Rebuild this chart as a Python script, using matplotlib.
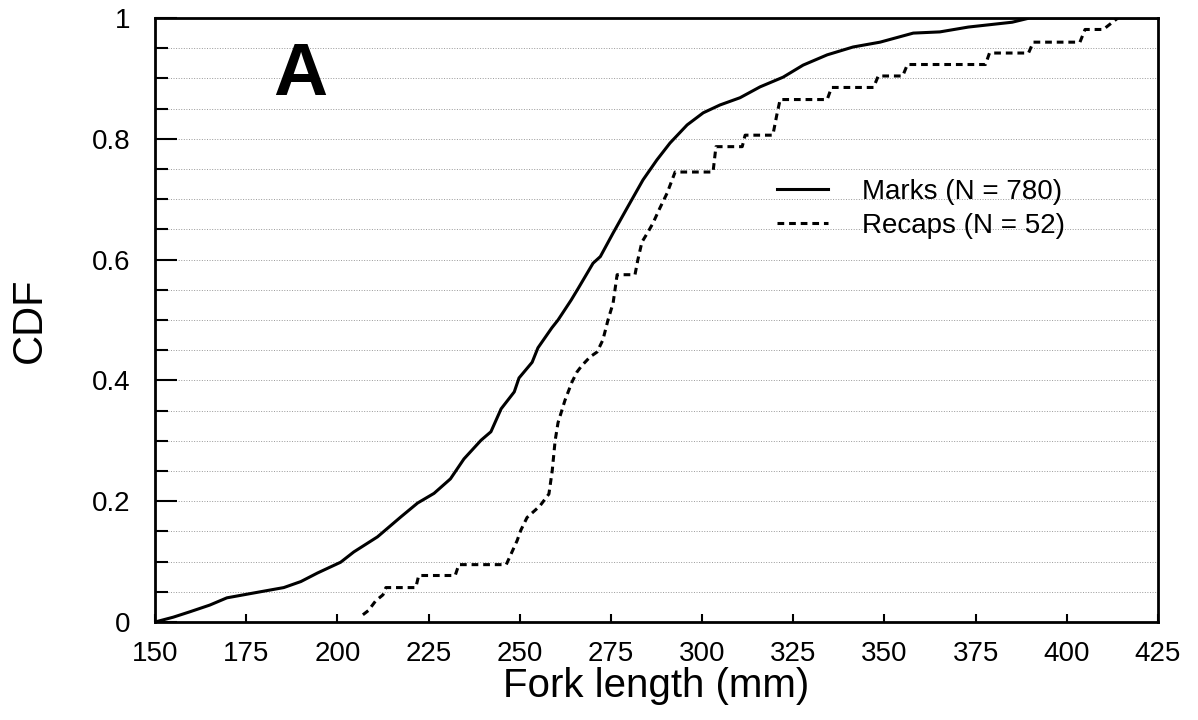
import numpy as np
import matplotlib
matplotlib.use("Agg")
import matplotlib.pyplot as plt
from matplotlib.ticker import MultipleLocator

# Traced CDF for marked fish (N = 780):
marks_x = [150, 155, 159.6, 165, 169.7, 177, 185.3, 190, 194.5, 200.9, 204.5, 211, 217.4, 222,
           226.5, 231, 234.7, 239.4, 242.1, 244.9, 248.5, 249.8, 253.4, 255, 258.8, 260.5, 264.1,
           266, 270.1, 272.1, 275.6, 279.4, 283.8, 287.6, 291.2, 295.9, 300.3, 304.9, 310.4,
           315.9, 322.2, 327.7, 334.3, 341.4, 348.8, 357.9, 365.2, 373, 385, 389.8, 425]
marks_y = [0.0, 0.008, 0.017, 0.028, 0.04, 0.048, 0.057, 0.067, 0.081, 0.099, 0.116, 0.141, 0.174,
           0.197, 0.213, 0.237, 0.27, 0.301, 0.315, 0.353, 0.381, 0.404, 0.43, 0.454, 0.487, 0.5,
           0.533, 0.552, 0.594, 0.605, 0.644, 0.685, 0.732, 0.765, 0.793, 0.823, 0.843, 0.856,
           0.868, 0.886, 0.902, 0.922, 0.939, 0.952, 0.96, 0.975, 0.977, 0.985, 0.993, 1.0, 1.0]

# Traced CDF for recaptures (N = 52):
recap_x = [207.0, 208.5, 210.5, 212.5, 213.3, 221.5, 222.3, 232.3, 233.3, 246.3, 247.8, 249.3,
           250.3, 252.0, 255.5, 258.0, 258.9, 259.7, 260.5, 262.4, 264.3, 265.7, 267.1, 269.3,
           271.2, 272.8, 274.2, 275.6, 276.7, 281.6, 282.4, 283.5, 285.2, 286.5, 288.4, 290.4,
           292.6, 303.0, 303.8, 311.0, 311.8, 319.4, 320.5, 321.4, 334.3, 335.5, 347.0, 348.3,
           355.0, 356.3, 377.7, 378.8, 389.5, 390.8, 403.6, 405.0, 410.0, 414.0]
recap_y = [0.012, 0.019, 0.035, 0.045, 0.057, 0.057, 0.077, 0.077, 0.095, 0.095, 0.115, 0.135,
           0.152, 0.173, 0.192, 0.212, 0.25, 0.3, 0.33, 0.367, 0.397, 0.414, 0.425, 0.439, 0.447,
           0.467, 0.5, 0.528, 0.575, 0.575, 0.6, 0.629, 0.646, 0.66, 0.685, 0.71, 0.745, 0.745,
           0.787, 0.787, 0.806, 0.806, 0.84, 0.865, 0.865, 0.885, 0.885, 0.904, 0.904, 0.923,
           0.923, 0.942, 0.942, 0.96, 0.96, 0.981, 0.981, 1.0]

labels = ["Marks (N = 780)", "Recaps (N = 52)"]

plt.rcParams['font.family'] = ['Liberation Sans', 'DejaVu Sans']

fig = plt.figure(figsize=(11.98, 7.2), dpi=100)
ax = fig.add_axes([0.1294, 0.1361, 0.8372, 0.8389])

ax.plot(marks_x, marks_y, '-', color='black', lw=2.2, label=labels[0])
ax.plot(recap_x, recap_y, color='black', lw=2.2, linestyle=(0, (2.2, 1.6)), label=labels[1])

ax.set_xlim(150, 425)
ax.set_ylim(0, 1)

# Ticks inside, minor on y every 0.05
ax.xaxis.set_major_locator(MultipleLocator(25))
ax.yaxis.set_minor_locator(MultipleLocator(0.05))
ax.tick_params(axis='x', direction='in', length=6, width=1.5, labelsize=20, pad=14)
ax.tick_params(axis='y', which='major', direction='in', length=16, width=1.5, labelsize=20, pad=18)
ax.tick_params(axis='y', which='minor', direction='in', length=9, width=1.5)
ax.set_yticks([0, 0.2, 0.4, 0.6, 0.8, 1.0])
ax.set_yticklabels(['0', '0.2', '0.4', '0.6', '0.8', '1'])

# Dotted horizontal grid
ax.grid(True, axis='y', which='both', color='#999999', linestyle=':', lw=0.7)

for s in ax.spines.values():
    s.set_linewidth(2.0)

ax.set_xlabel("Fork length (mm)", fontsize=29, labelpad=0)
ax.set_ylabel("CDF", fontsize=30)
ax.yaxis.set_label_coords(-0.105, 0.5)

ax.text(0.145, 0.905, "A", transform=ax.transAxes, fontsize=54, fontweight='bold',
        ha='center', va='center')

ax.legend(loc='upper left', bbox_to_anchor=(0.62, 0.734), frameon=False, fontsize=20,
          handlelength=1.83, handletextpad=1.22, labelspacing=0.3, borderaxespad=0,
          borderpad=0)

plt.savefig("out.png", dpi=100)
